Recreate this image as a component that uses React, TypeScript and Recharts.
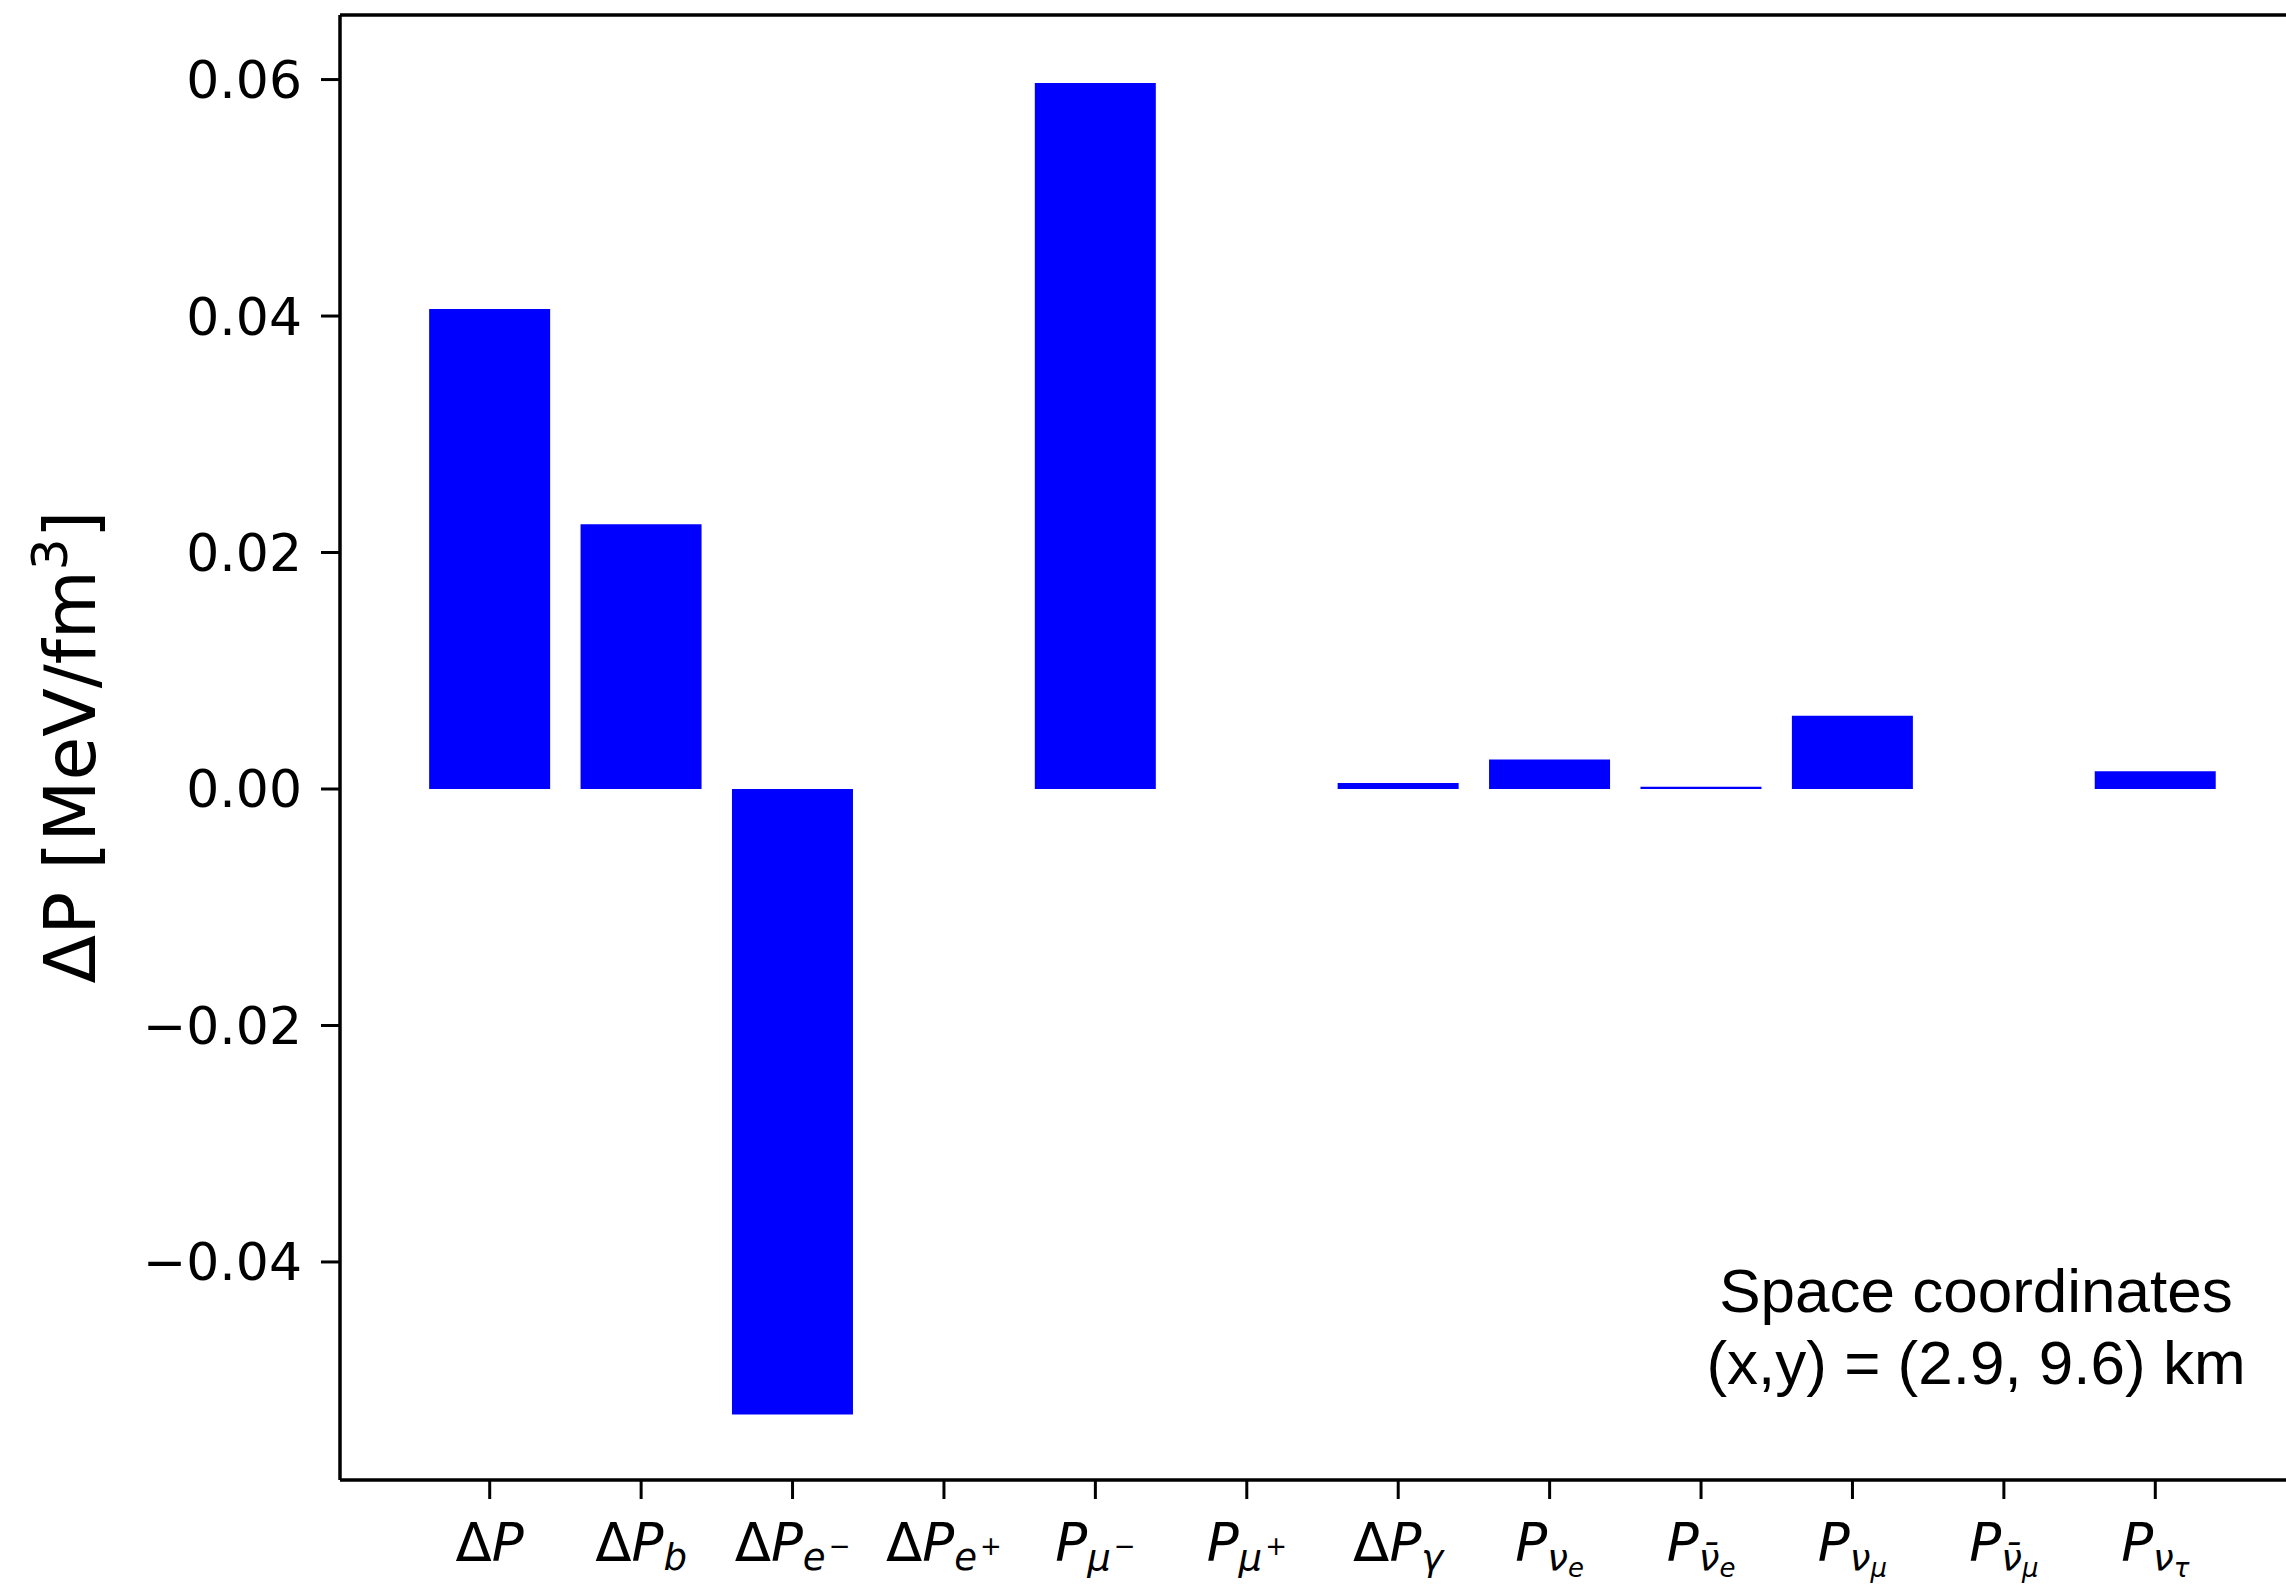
import React from 'react';
import { BarChart, Bar, XAxis, YAxis, ReferenceLine, Label } from 'recharts';

// Pressure differences per component (MeV/fm^3)
const componentKeys = [
  'dP', 'dPb', 'dPem', 'dPep', 'Pmum', 'Pmup',
  'dPgamma', 'Pnue', 'Pnuebar', 'Pnumu', 'Pnumubar', 'Pnutau',
];
const pressureValues = [
  0.0406, 0.0224, -0.0529, 0.0, 0.0597, 0.0,
  0.0005, 0.0025, 0.0002, 0.0062, 0.0, 0.0015,
];

// Pieces of each math-style tick label: prefix, base, subscript, nested sub/superscript
type TickParts = { pre: string; sub?: string; subsub?: string; subsup?: string };
const tickParts: TickParts[] = [
  { pre: 'Δ' },
  { pre: 'Δ', sub: 'b' },
  { pre: 'Δ', sub: 'e', subsup: '−' },
  { pre: 'Δ', sub: 'e', subsup: '+' },
  { pre: '', sub: 'μ', subsup: '−' },
  { pre: '', sub: 'μ', subsup: '+' },
  { pre: 'Δ', sub: 'γ' },
  { pre: '', sub: 'ν', subsub: 'e' },
  { pre: '', sub: 'ν\u0304', subsub: 'e' },
  { pre: '', sub: 'ν', subsub: 'μ' },
  { pre: '', sub: 'ν\u0304', subsub: 'μ' },
  { pre: '', sub: 'ν', subsub: 'τ' },
];

const yTicks = [-0.04, -0.02, 0, 0.02, 0.04, 0.06];
const yDomain: [number, number] = [-0.05844, 0.06546];

const annotationLines = ['Space coordinates', '(x,y) = (2.9, 9.6) km'];

const chartData = componentKeys.map((key, i) => ({ key, value: pressureValues[i] }));

const FONT = '"DejaVu Sans", sans-serif';
const TICK_FS = 53;
const SUB_FS = TICK_FS * 0.7;
const SUBSUB_FS = TICK_FS * 0.49;

const formatY = (v: number) => (v < 0 ? '\u2212' + Math.abs(v).toFixed(2) : v.toFixed(2));

const MathTick = (props: any) => {
  const { x, y, payload } = props;
  const parts = tickParts[payload.index] ?? { pre: '' };
  const baseline = y + 44;
  return (
    <text x={x} y={baseline} textAnchor="middle" fontFamily={FONT} fontSize={TICK_FS} fill="#000">
      {parts.pre && <tspan>{parts.pre}</tspan>}
      <tspan fontStyle="italic">P</tspan>
      {parts.sub && (
        <tspan fontStyle="italic" fontSize={SUB_FS} dy={9}>
          {parts.sub}
        </tspan>
      )}
      {parts.subsub && (
        <tspan fontStyle="italic" fontSize={SUBSUB_FS} dy={7}>
          {parts.subsub}
        </tspan>
      )}
      {parts.subsup && (
        <tspan fontSize={SUBSUB_FS} dy={-15} dx={3}>
          {parts.subsup}
        </tspan>
      )}
    </text>
  );
};

const YTitle = () => (
  <text
    x={95}
    y={747}
    transform="rotate(-90, 95, 747)"
    textAnchor="middle"
    fontFamily={FONT}
    fontSize={71}
    fill="#000"
  >
    ΔP [MeV/fm
    <tspan fontSize={50} dy={-28}>3</tspan>
    <tspan dy={28}>]</tspan>
  </text>
);

export default function App() {
  return (
    <div
      style={{
        position: 'absolute',
        left: 0,
        top: 0,
        width: 2286,
        height: 1584,
        overflow: 'hidden',
        background: '#fff',
      }}
    >
      <BarChart
        width={2320}
        height={1584}
        data={chartData}
        margin={{ top: 15, right: 15, bottom: 0, left: 0 }}
        barCategoryGap="10%"
      >
        <XAxis
          dataKey="key"
          height={104}
          padding={{ left: 74, right: 74 }}
          axisLine={{ stroke: '#000', strokeWidth: 3.5 }}
          tickLine={{ stroke: '#000', strokeWidth: 3 }}
          tickSize={19}
          tickMargin={18}
          interval={0}
          tick={<MathTick />}
        />
        <YAxis
          width={340}
          domain={yDomain}
          allowDataOverflow
          ticks={yTicks}
          tickFormatter={formatY}
          axisLine={{ stroke: '#000', strokeWidth: 3.5 }}
          tickLine={{ stroke: '#000', strokeWidth: 3 }}
          tickSize={19}
          tickMargin={19}
          tick={{ fill: '#000', fontSize: 52, fontFamily: FONT }}
        >
          <Label content={<YTitle />} />
        </YAxis>
        <ReferenceLine y={yDomain[1]} stroke="#000" strokeWidth={3.5} ifOverflow="visible" />
        <Bar dataKey="value" fill="#0000ff" isAnimationActive={false} />
      </BarChart>
      <svg
        width={2286}
        height={1584}
        style={{ position: 'absolute', left: 0, top: 0, pointerEvents: 'none' }}
      >
        {annotationLines.map((line, i) => (
          <text
            key={line}
            x={1976}
            y={1312 + i * 72}
            textAnchor="middle"
            fontFamily='"Liberation Sans", Arial, sans-serif'
            fontSize={62}
            fill="#000"
          >
            {line}
          </text>
        ))}
      </svg>
    </div>
  );
}
